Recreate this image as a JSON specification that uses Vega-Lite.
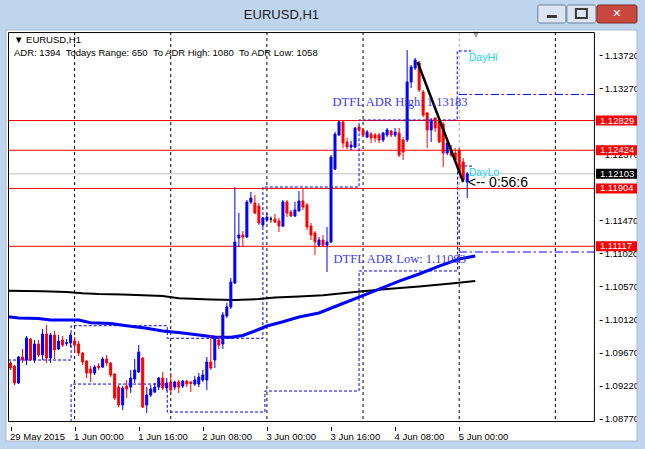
{
"$schema": "https://vega.github.io/schema/vega-lite/v6.json",
"width": 651, "height": 454,
"autosize": {"type": "none"},
"padding": 0,
"background": "#FFFFFF",
"config": {"view": {"stroke": null}, "font": "Liberation Sans"},
"datasets": {
"candles": [
{"i":-16,"o":1.09528,"h":1.09555,"l":1.09433,"c":1.09460,"d":"dn"},
{"i":-15,"o":1.09487,"h":1.09501,"l":1.09229,"c":1.09256,"d":"dn"},
{"i":-14,"o":1.09256,"h":1.09624,"l":1.09242,"c":1.09610,"d":"up"},
{"i":-13,"o":1.09610,"h":1.09719,"l":1.09528,"c":1.09569,"d":"dn"},
{"i":-12,"o":1.09569,"h":1.09896,"l":1.09501,"c":1.09869,"d":"up"},
{"i":-11,"o":1.09855,"h":1.09869,"l":1.09555,"c":1.09569,"d":"dn"},
{"i":-10,"o":1.09569,"h":1.09842,"l":1.09528,"c":1.09787,"d":"up"},
{"i":-9,"o":1.09787,"h":1.09842,"l":1.09610,"c":1.09637,"d":"dn"},
{"i":-8,"o":1.09637,"h":1.09991,"l":1.09569,"c":1.09923,"d":"up"},
{"i":-7,"o":1.09923,"h":1.10045,"l":1.09528,"c":1.09596,"d":"dn"},
{"i":-6,"o":1.09596,"h":1.09937,"l":1.09528,"c":1.09909,"d":"up"},
{"i":-5,"o":1.09909,"h":1.09964,"l":1.09583,"c":1.09705,"d":"dn"},
{"i":-4,"o":1.09719,"h":1.09909,"l":1.09705,"c":1.09828,"d":"up"},
{"i":-3,"o":1.09842,"h":1.09896,"l":1.09746,"c":1.09773,"d":"dn"},
{"i":-2,"o":1.09794,"h":1.09855,"l":1.09760,"c":1.09807,"d":"up"},
{"i":-1,"o":1.09801,"h":1.09937,"l":1.09746,"c":1.09909,"d":"up"},
{"i":0,"o":1.09828,"h":1.09882,"l":1.09664,"c":1.09773,"d":"dn"},
{"i":1,"o":1.09787,"h":1.09828,"l":1.09624,"c":1.09664,"d":"dn"},
{"i":2,"o":1.09664,"h":1.09678,"l":1.09501,"c":1.09542,"d":"dn"},
{"i":3,"o":1.09555,"h":1.09569,"l":1.09324,"c":1.09392,"d":"dn"},
{"i":4,"o":1.09446,"h":1.09487,"l":1.09270,"c":1.09392,"d":"dn"},
{"i":5,"o":1.09392,"h":1.09501,"l":1.09365,"c":1.09473,"d":"up"},
{"i":6,"o":1.09487,"h":1.09528,"l":1.09433,"c":1.09467,"d":"dn"},
{"i":7,"o":1.09473,"h":1.09610,"l":1.09460,"c":1.09583,"d":"up"},
{"i":8,"o":1.09583,"h":1.09637,"l":1.09487,"c":1.09528,"d":"dn"},
{"i":9,"o":1.09528,"h":1.09542,"l":1.09338,"c":1.09365,"d":"dn"},
{"i":10,"o":1.09378,"h":1.09392,"l":1.09025,"c":1.09052,"d":"dn"},
{"i":11,"o":1.09201,"h":1.09229,"l":1.08929,"c":1.08957,"d":"dn"},
{"i":12,"o":1.08957,"h":1.09215,"l":1.08888,"c":1.09188,"d":"up"},
{"i":13,"o":1.09215,"h":1.09297,"l":1.09052,"c":1.09174,"d":"dn"},
{"i":14,"o":1.09201,"h":1.09433,"l":1.09120,"c":1.09324,"d":"up"},
{"i":15,"o":1.09310,"h":1.09583,"l":1.09256,"c":1.09433,"d":"up"},
{"i":16,"o":1.09406,"h":1.09773,"l":1.09392,"c":1.09678,"d":"up"},
{"i":17,"o":1.09596,"h":1.09610,"l":1.08916,"c":1.08929,"d":"dn"},
{"i":18,"o":1.08957,"h":1.09201,"l":1.08848,"c":1.09093,"d":"up"},
{"i":19,"o":1.09093,"h":1.09229,"l":1.09065,"c":1.09174,"d":"up"},
{"i":20,"o":1.09133,"h":1.09256,"l":1.09120,"c":1.09201,"d":"up"},
{"i":21,"o":1.09201,"h":1.09338,"l":1.09161,"c":1.09324,"d":"up"},
{"i":22,"o":1.09324,"h":1.09406,"l":1.09161,"c":1.09188,"d":"dn"},
{"i":23,"o":1.09188,"h":1.09324,"l":1.09147,"c":1.09256,"d":"up"},
{"i":24,"o":1.09270,"h":1.09392,"l":1.09120,"c":1.09161,"d":"dn"},
{"i":25,"o":1.09201,"h":1.09283,"l":1.09161,"c":1.09270,"d":"up"},
{"i":26,"o":1.09270,"h":1.09297,"l":1.09120,"c":1.09201,"d":"dn"},
{"i":27,"o":1.09215,"h":1.09297,"l":1.09188,"c":1.09283,"d":"up"},
{"i":28,"o":1.09283,"h":1.09297,"l":1.09201,"c":1.09242,"d":"dn"},
{"i":29,"o":1.09270,"h":1.09276,"l":1.09133,"c":1.09249,"d":"dn"},
{"i":30,"o":1.09242,"h":1.09351,"l":1.09215,"c":1.09297,"d":"up"},
{"i":31,"o":1.09242,"h":1.09392,"l":1.09201,"c":1.09338,"d":"up"},
{"i":32,"o":1.09297,"h":1.09433,"l":1.09270,"c":1.09365,"d":"up"},
{"i":33,"o":1.09297,"h":1.09610,"l":1.09161,"c":1.09542,"d":"up"},
{"i":34,"o":1.09542,"h":1.09909,"l":1.09433,"c":1.09460,"d":"dn"},
{"i":35,"o":1.09569,"h":1.09896,"l":1.09460,"c":1.09855,"d":"up"},
{"i":36,"o":1.09842,"h":1.09896,"l":1.09719,"c":1.09773,"d":"dn"},
{"i":37,"o":1.09787,"h":1.10222,"l":1.09719,"c":1.10182,"d":"up"},
{"i":38,"o":1.10168,"h":1.10345,"l":1.10141,"c":1.10291,"d":"up"},
{"i":39,"o":1.10291,"h":1.10685,"l":1.10263,"c":1.10630,"d":"up"},
{"i":40,"o":1.10617,"h":1.11924,"l":1.10603,"c":1.11175,"d":"up"},
{"i":41,"o":1.11229,"h":1.11570,"l":1.11107,"c":1.11270,"d":"up"},
{"i":42,"o":1.11270,"h":1.11325,"l":1.11107,"c":1.11243,"d":"dn"},
{"i":43,"o":1.11243,"h":1.11747,"l":1.11229,"c":1.11720,"d":"up"},
{"i":44,"o":1.11720,"h":1.11856,"l":1.11692,"c":1.11774,"d":"up"},
{"i":45,"o":1.11706,"h":1.11815,"l":1.11556,"c":1.11570,"d":"dn"},
{"i":46,"o":1.11665,"h":1.11706,"l":1.11407,"c":1.11434,"d":"dn"},
{"i":47,"o":1.11407,"h":1.11515,"l":1.11379,"c":1.11502,"d":"up"},
{"i":48,"o":1.11475,"h":1.11570,"l":1.11447,"c":1.11515,"d":"up"},
{"i":49,"o":1.11488,"h":1.11522,"l":1.11438,"c":1.11488,"d":"doji"},
{"i":50,"o":1.11488,"h":1.11556,"l":1.11434,"c":1.11447,"d":"dn"},
{"i":51,"o":1.11461,"h":1.11502,"l":1.11311,"c":1.11393,"d":"dn"},
{"i":52,"o":1.11393,"h":1.11747,"l":1.11379,"c":1.11720,"d":"up"},
{"i":53,"o":1.11720,"h":1.11747,"l":1.11515,"c":1.11570,"d":"dn"},
{"i":54,"o":1.11584,"h":1.11611,"l":1.11515,"c":1.11529,"d":"dn"},
{"i":55,"o":1.11529,"h":1.11720,"l":1.11515,"c":1.11611,"d":"up"},
{"i":56,"o":1.11597,"h":1.11870,"l":1.11597,"c":1.11733,"d":"up"},
{"i":57,"o":1.11733,"h":1.11897,"l":1.11611,"c":1.11652,"d":"dn"},
{"i":58,"o":1.11679,"h":1.11706,"l":1.11338,"c":1.11379,"d":"dn"},
{"i":59,"o":1.11393,"h":1.11434,"l":1.11202,"c":1.11270,"d":"dn"},
{"i":60,"o":1.11297,"h":1.11325,"l":1.10998,"c":1.11175,"d":"dn"},
{"i":61,"o":1.11134,"h":1.11243,"l":1.11107,"c":1.11202,"d":"up"},
{"i":62,"o":1.11202,"h":1.11270,"l":1.11107,"c":1.11134,"d":"dn"},
{"i":63,"o":1.11134,"h":1.11379,"l":1.10767,"c":1.11175,"d":"up"},
{"i":64,"o":1.11175,"h":1.12359,"l":1.11161,"c":1.12332,"d":"up"},
{"i":65,"o":1.12168,"h":1.12672,"l":1.12155,"c":1.12645,"d":"up"},
{"i":66,"o":1.12632,"h":1.12822,"l":1.12618,"c":1.12809,"d":"up"},
{"i":67,"o":1.12809,"h":1.12836,"l":1.12455,"c":1.12523,"d":"dn"},
{"i":68,"o":1.12536,"h":1.12591,"l":1.12441,"c":1.12468,"d":"dn"},
{"i":69,"o":1.12468,"h":1.12550,"l":1.12427,"c":1.12495,"d":"up"},
{"i":70,"o":1.12468,"h":1.12740,"l":1.12455,"c":1.12727,"d":"up"},
{"i":71,"o":1.12740,"h":1.12768,"l":1.12672,"c":1.12700,"d":"dn"},
{"i":72,"o":1.12700,"h":1.12727,"l":1.12604,"c":1.12632,"d":"dn"},
{"i":73,"o":1.12604,"h":1.12700,"l":1.12591,"c":1.12672,"d":"up"},
{"i":74,"o":1.12645,"h":1.12672,"l":1.12523,"c":1.12591,"d":"dn"},
{"i":75,"o":1.12632,"h":1.12659,"l":1.12536,"c":1.12591,"d":"dn"},
{"i":76,"o":1.12632,"h":1.12659,"l":1.12523,"c":1.12564,"d":"dn"},
{"i":77,"o":1.12564,"h":1.12672,"l":1.12536,"c":1.12659,"d":"up"},
{"i":78,"o":1.12632,"h":1.12727,"l":1.12604,"c":1.12700,"d":"up"},
{"i":79,"o":1.12686,"h":1.12700,"l":1.12604,"c":1.12632,"d":"dn"},
{"i":80,"o":1.12632,"h":1.12727,"l":1.12604,"c":1.12672,"d":"up"},
{"i":81,"o":1.12659,"h":1.12727,"l":1.12332,"c":1.12359,"d":"dn"},
{"i":82,"o":1.12564,"h":1.12604,"l":1.12291,"c":1.12400,"d":"dn"},
{"i":83,"o":1.12564,"h":1.13788,"l":1.12536,"c":1.13353,"d":"up"},
{"i":84,"o":1.13353,"h":1.13584,"l":1.13271,"c":1.13557,"d":"up"},
{"i":85,"o":1.13543,"h":1.13680,"l":1.13516,"c":1.13652,"d":"up"},
{"i":86,"o":1.13612,"h":1.13639,"l":1.13217,"c":1.13244,"d":"dn"},
{"i":87,"o":1.13217,"h":1.13244,"l":1.12877,"c":1.12904,"d":"dn"},
{"i":88,"o":1.12931,"h":1.12945,"l":1.12455,"c":1.12700,"d":"dn"},
{"i":89,"o":1.12700,"h":1.12863,"l":1.12536,"c":1.12836,"d":"up"},
{"i":90,"o":1.12863,"h":1.12877,"l":1.12672,"c":1.12727,"d":"dn"},
{"i":91,"o":1.12836,"h":1.12877,"l":1.12523,"c":1.12536,"d":"dn"},
{"i":92,"o":1.12781,"h":1.12809,"l":1.12196,"c":1.12387,"d":"dn"},
{"i":93,"o":1.12387,"h":1.12564,"l":1.12359,"c":1.12523,"d":"up"},
{"i":94,"o":1.12427,"h":1.12495,"l":1.12332,"c":1.12359,"d":"dn"},
{"i":95,"o":1.12387,"h":1.12455,"l":1.12264,"c":1.12291,"d":"dn"},
{"i":96,"o":1.12427,"h":1.12455,"l":1.12114,"c":1.12128,"d":"dn"},
{"i":97,"o":1.12264,"h":1.12318,"l":1.11992,"c":1.12019,"d":"dn"},
{"i":98,"o":1.11992,"h":1.12128,"l":1.11774,"c":1.12103,"d":"up"}
],
"ma200": [
{"i":-16.6,"p":1.10512},{"i":-8,"p":1.10505},{"i":-2,"p":1.10494},{"i":2,"p":1.10477},{"i":6,"p":1.10467},{"i":12,"p":1.10460},{"i":22,"p":1.10440},{"i":26,"p":1.10409},{"i":34,"p":1.10392},{"i":40,"p":1.10386},{"i":46,"p":1.10399},{"i":50,"p":1.10420},{"i":56,"p":1.10433},{"i":62,"p":1.10450},{"i":70,"p":1.10494},{"i":78,"p":1.10535},{"i":86,"p":1.10569},{"i":94,"p":1.10610},{"i":100,"p":1.10644}
],
"ma50": [
{"i":-16.6,"p":1.10159},{"i":-14,"p":1.10141},{"i":-9,"p":1.10134},{"i":-6,"p":1.10113},{"i":1,"p":1.10113},{"i":4,"p":1.10077},{"i":9,"p":1.10066},{"i":13,"p":1.10036},{"i":18,"p":1.10000},{"i":22,"p":1.09964},{"i":27,"p":1.09937},{"i":31,"p":1.09909},{"i":35,"p":1.09882},{"i":39,"p":1.09878},{"i":42,"p":1.09903},{"i":45,"p":1.09964},{"i":48,"p":1.10032},{"i":52,"p":1.10090},{"i":56,"p":1.10154},{"i":61,"p":1.10209},{"i":66,"p":1.10318},{"i":71,"p":1.10426},{"i":76,"p":1.10535},{"i":81,"p":1.10644},{"i":86,"p":1.10740},{"i":91,"p":1.10848},{"i":96,"p":1.10944},{"i":100,"p":1.10985}
],
"steps": [
{"s":"hi","i":-16.625,"p":1.09569},{"s":"hi","i":-0.875,"p":1.10036},{"s":"hi","i":23.125,"p":1.09865},{"s":"hi","i":47,"p":1.11924},{"s":"hi","i":71,"p":1.12836},{"s":"hi","i":95.5,"p":1.13775},{"s":"hi","i":99,"p":1.13775},
{"s":"lo","i":-0.9,"p":1.08725},{"s":"lo","i":-0.875,"p":1.09242},{"s":"lo","i":23.125,"p":1.08861},{"s":"lo","i":47.5,"p":1.09147},{"s":"lo","i":71,"p":1.10781},{"s":"lo","i":95.6,"p":1.12209},{"s":"lo","i":99.5,"p":1.12209}
],
"levels": [{"p":1.12829},{"p":1.12424},{"p":1.11904},{"p":1.11117}],
"chrome": [
{"x1":-18.625,"x2":142.625,"y1":1.14469,"y2":1.14061},
{"x1":-18.625,"x2":-17.125,"y1":1.14061,"y2":1.08358},
{"x1":140.375,"x2":142.625,"y1":1.14061,"y2":1.08358},
{"x1":-18.625,"x2":142.625,"y1":1.08467,"y2":1.08358}
]
},
"layer": [
{"data": {"name": "chrome"}, "mark": {"type": "rect", "fill": "#BFD5ED"},
 "encoding": {
  "x": {"field": "x1", "type": "quantitative", "title": null, "scale": {"domain": [-17.375, 142.625], "nice": false, "zero": false},
   "axis": {"orient": "bottom", "offset": -27.6, "values": [-16, 0, 16, 32, 48, 64, 80, 96], "labelExpr": "datum.value == -16 ? '29 May 2015' : datum.value == 0 ? '1 Jun 00:00' : datum.value == 16 ? '1 Jun 16:00' : datum.value == 32 ? '2 Jun 08:00' : datum.value == 48 ? '3 Jun 00:00' : datum.value == 64 ? '3 Jun 16:00' : datum.value == 80 ? '4 Jun 08:00' : '5 Jun 00:00'", "title": null, "grid": false, "domain": false, "tickSize": 4, "tickColor": "#000000", "labelAlign": "left", "labelBaseline": "top", "labelPadding": 1, "labelOffset": -1, "labelFont": "Liberation Sans", "labelFontSize": 9.5, "labelColor": "#000000", "labelOverlap": false, "labelFlush": false, "labelBound": false, "zindex": 0}},
  "x2": {"field": "x2"},
  "y": {"field": "y1", "type": "quantitative", "title": null, "scale": {"domain": [1.08358, 1.14401], "nice": false, "zero": false},
   "axis": {"orient": "right", "offset": -51.8, "values": [1.0877, 1.0922, 1.0967, 1.1012, 1.1057, 1.1102, 1.1147, 1.1237, 1.1327, 1.1372], "format": ".5f", "title": null, "grid": false, "domain": false, "tickSize": 3, "tickColor": "#000000", "labelPadding": 2, "labelFont": "Liberation Sans", "labelFontSize": 9.5, "labelColor": "#000000", "labelOverlap": false, "labelFlush": false, "labelBound": false, "labelBaseline": "middle", "zindex": 0}},
  "y2": {"field": "y2"}}},
{"data": {"values": [{}]}, "mark": {"type": "rect", "fill": "transparent", "stroke": "#A7B7C9", "strokeWidth": 1},
 "encoding": {"x": {"datum": -17.125, "type": "quantitative", "scale": {"domain": [-17.375, 142.625], "nice": false, "zero": false}}, "x2": {"datum": 140.375}, "y": {"datum": 1.14061, "type": "quantitative", "scale": {"domain": [1.08358, 1.14401], "nice": false, "zero": false}}, "y2": {"datum": 1.08467}}},
{"data": {"values": [{"t": "EURUSD,H1"}]}, "mark": {"type": "text", "align": "center", "baseline": "middle", "font": "Liberation Sans", "fontSize": 13, "color": "#1A1A1A"},
 "encoding": {"x": {"datum": 51.625, "type": "quantitative", "scale": {"domain": [-17.375, 142.625], "nice": false, "zero": false}}, "y": {"datum": 1.14265, "type": "quantitative", "scale": {"domain": [1.08358, 1.14401], "nice": false, "zero": false}}, "text": {"field": "t"}}},
{"data": {"values": [{}]}, "mark": {"type": "rect", "fill": "#DCE6F3", "stroke": "#6F8199", "strokeWidth": 1, "cornerRadius": 2},
 "encoding": {"x": {"datum": 115.625, "type": "quantitative", "scale": {"domain": [-17.375, 142.625], "nice": false, "zero": false}}, "x2": {"datum": 122.625}, "y": {"datum": 1.14401, "type": "quantitative", "scale": {"domain": [1.08358, 1.14401], "nice": false, "zero": false}}, "y2": {"datum": 1.14156}}},
{"data": {"values": [{}]}, "mark": {"type": "rect", "fill": "#DCE6F3", "stroke": "#6F8199", "strokeWidth": 1, "cornerRadius": 2},
 "encoding": {"x": {"datum": 122.875, "type": "quantitative", "scale": {"domain": [-17.375, 142.625], "nice": false, "zero": false}}, "x2": {"datum": 130.125}, "y": {"datum": 1.14401, "type": "quantitative", "scale": {"domain": [1.08358, 1.14401], "nice": false, "zero": false}}, "y2": {"datum": 1.14156}}},
{"data": {"values": [{}]}, "mark": {"type": "rect", "fill": "#C8473E", "stroke": "#7A2A25", "strokeWidth": 1, "cornerRadius": 2},
 "encoding": {"x": {"datum": 130.375, "type": "quantitative", "scale": {"domain": [-17.375, 142.625], "nice": false, "zero": false}}, "x2": {"datum": 140.375}, "y": {"datum": 1.14401, "type": "quantitative", "scale": {"domain": [1.08358, 1.14401], "nice": false, "zero": false}}, "y2": {"datum": 1.14156}}},
{"data": {"values": [{}]}, "mark": {"type": "rect", "fill": "#3A3A3A"},
 "encoding": {"x": {"datum": 117.875, "type": "quantitative", "scale": {"domain": [-17.375, 142.625], "nice": false, "zero": false}}, "x2": {"datum": 120.375}, "y": {"datum": 1.14265, "type": "quantitative", "scale": {"domain": [1.08358, 1.14401], "nice": false, "zero": false}}, "y2": {"datum": 1.14224}}},
{"data": {"values": [{}]}, "mark": {"type": "rect", "fill": "transparent", "stroke": "#3A3A3A", "strokeWidth": 2},
 "encoding": {"x": {"datum": 125.125, "type": "quantitative", "scale": {"domain": [-17.375, 142.625], "nice": false, "zero": false}}, "x2": {"datum": 127.875}, "y": {"datum": 1.14346, "type": "quantitative", "scale": {"domain": [1.08358, 1.14401], "nice": false, "zero": false}}, "y2": {"datum": 1.14224}}},
{"data": {"values": [{"t": "✕"}]}, "mark": {"type": "text", "align": "center", "baseline": "middle", "font": "DejaVu Sans", "fontSize": 11, "fontWeight": "bold", "color": "#FFFFFF"},
 "encoding": {"x": {"datum": 135.375, "type": "quantitative", "scale": {"domain": [-17.375, 142.625], "nice": false, "zero": false}}, "y": {"datum": 1.14278, "type": "quantitative", "scale": {"domain": [1.08358, 1.14401], "nice": false, "zero": false}}, "text": {"field": "t"}}},
{"data": {"values": [{"i": 0}, {"i": 24}, {"i": 48}, {"i": 72}, {"i": 120}]}, "mark": {"type": "rule", "color": "#000000", "strokeWidth": 1, "strokeDash": [3, 3]},
 "encoding": {"x": {"field": "i", "type": "quantitative", "title": null, "scale": {"domain": [-17.375, 142.625], "nice": false, "zero": false}}, "y": {"datum": 1.14033, "type": "quantitative", "scale": {"domain": [1.08358, 1.14401], "nice": false, "zero": false}}, "y2": {"datum": 1.08725}}},
{"data": {"values": [{}]}, "mark": {"type": "rule", "color": "#000000", "strokeWidth": 1, "strokeDash": [3, 3]},
 "encoding": {"x": {"datum": 96, "type": "quantitative", "scale": {"domain": [-17.375, 142.625], "nice": false, "zero": false}}, "y": {"datum": 1.11747, "type": "quantitative", "scale": {"domain": [1.08358, 1.14401], "nice": false, "zero": false}}, "y2": {"datum": 1.08725}}},
{"data": {"values": [{}]}, "mark": {"type": "rule", "color": "#A8A8A8", "strokeWidth": 1, "strokeDash": [3, 3]},
 "encoding": {"x": {"datum": 96, "type": "quantitative", "scale": {"domain": [-17.375, 142.625], "nice": false, "zero": false}}, "y": {"datum": 1.14033, "type": "quantitative", "scale": {"domain": [1.08358, 1.14401], "nice": false, "zero": false}}, "y2": {"datum": 1.11747}}},
{"data": {"values": [{"t": "▼"}]}, "mark": {"type": "text", "align": "center", "baseline": "middle", "font": "DejaVu Sans", "fontSize": 8, "color": "#A0A0A0"},
 "encoding": {"x": {"datum": 100.125, "type": "quantitative", "scale": {"domain": [-17.375, 142.625], "nice": false, "zero": false}}, "y": {"datum": 1.13993, "type": "quantitative", "scale": {"domain": [1.08358, 1.14401], "nice": false, "zero": false}}, "text": {"field": "t"}}},
{"data": {"name": "levels"}, "mark": {"type": "rule", "color": "#FF0000", "strokeWidth": 1},
 "encoding": {"x": {"datum": -16.625, "type": "quantitative", "scale": {"domain": [-17.375, 142.625], "nice": false, "zero": false}}, "x2": {"datum": 129.875}, "y": {"field": "p", "type": "quantitative", "title": null, "scale": {"domain": [1.08358, 1.14401], "nice": false, "zero": false}}}},
{"data": {"values": [{"p": 1.12103}]}, "mark": {"type": "rule", "color": "#C0C0C0", "strokeWidth": 1},
 "encoding": {"x": {"datum": -16.625, "type": "quantitative", "scale": {"domain": [-17.375, 142.625], "nice": false, "zero": false}}, "x2": {"datum": 129.875}, "y": {"field": "p", "type": "quantitative", "title": null, "scale": {"domain": [1.08358, 1.14401], "nice": false, "zero": false}}}},
{"data": {"name": "steps"}, "mark": {"type": "line", "interpolate": "step-after", "color": "#0000FF", "strokeWidth": 1, "strokeDash": [3, 2]},
 "encoding": {"x": {"field": "i", "type": "quantitative", "title": null, "scale": {"domain": [-17.375, 142.625], "nice": false, "zero": false}}, "y": {"field": "p", "type": "quantitative", "title": null, "scale": {"domain": [1.08358, 1.14401], "nice": false, "zero": false}}, "detail": {"field": "s"}}},
{"data": {"values": [{"p": 1.13183}, {"p": 1.11039}]}, "mark": {"type": "rule", "color": "#0000FF", "strokeWidth": 1, "strokeDash": [8, 3, 2, 3]},
 "encoding": {"x": {"datum": 95.9, "type": "quantitative", "scale": {"domain": [-17.375, 142.625], "nice": false, "zero": false}}, "x2": {"datum": 129.875}, "y": {"field": "p", "type": "quantitative", "title": null, "scale": {"domain": [1.08358, 1.14401], "nice": false, "zero": false}}}},
{"data": {"name": "ma200"}, "mark": {"type": "line", "color": "#000000", "strokeWidth": 2},
 "encoding": {"x": {"field": "i", "type": "quantitative", "title": null, "scale": {"domain": [-17.375, 142.625], "nice": false, "zero": false}}, "y": {"field": "p", "type": "quantitative", "title": null, "scale": {"domain": [1.08358, 1.14401], "nice": false, "zero": false}}}},
{"data": {"name": "ma50"}, "mark": {"type": "line", "color": "#0000FF", "strokeWidth": 3},
 "encoding": {"x": {"field": "i", "type": "quantitative", "title": null, "scale": {"domain": [-17.375, 142.625], "nice": false, "zero": false}}, "y": {"field": "p", "type": "quantitative", "title": null, "scale": {"domain": [1.08358, 1.14401], "nice": false, "zero": false}}}},
{"data": {"name": "candles"}, "mark": {"type": "rule", "strokeWidth": 1},
 "encoding": {"x": {"field": "i", "type": "quantitative", "title": null, "scale": {"domain": [-17.375, 142.625], "nice": false, "zero": false}}, "y": {"field": "l", "type": "quantitative", "title": null, "scale": {"domain": [1.08358, 1.14401], "nice": false, "zero": false}}, "y2": {"field": "h"},
  "color": {"field": "d", "type": "nominal", "scale": {"domain": ["up", "dn", "doji"], "range": ["#0000FF", "#FF0000", "#000000"]}, "legend": null}}},
{"data": {"name": "candles"}, "mark": {"type": "bar", "width": 2, "strokeWidth": 1},
 "encoding": {"x": {"field": "i", "type": "quantitative", "title": null, "scale": {"domain": [-17.375, 142.625], "nice": false, "zero": false}}, "y": {"field": "o", "type": "quantitative", "title": null, "scale": {"domain": [1.08358, 1.14401], "nice": false, "zero": false}}, "y2": {"field": "c"},
  "color": {"field": "d", "type": "nominal", "scale": {"domain": ["up", "dn", "doji"], "range": ["#0000FF", "#FF0000", "#000000"]}, "legend": null},
  "stroke": {"field": "d", "type": "nominal", "scale": {"domain": ["up", "dn", "doji"], "range": ["#0000FF", "#FF0000", "#000000"]}, "legend": null}}},
{"data": {"values": [{"i": 85.6, "p": 1.13625}, {"i": 97, "p": 1.11992}]}, "mark": {"type": "line", "color": "#000000", "strokeWidth": 2.5},
 "encoding": {"x": {"field": "i", "type": "quantitative", "title": null, "scale": {"domain": [-17.375, 142.625], "nice": false, "zero": false}}, "y": {"field": "p", "type": "quantitative", "title": null, "scale": {"domain": [1.08358, 1.14401], "nice": false, "zero": false}}}},
{"data": {"values": [{"i": -15.125, "p": 1.13925, "t": "▼ EURUSD,H1"}, {"i": -15.125, "p": 1.13748, "t": "ADR: 1394\u00a0\u00a0Todays Range: 650\u00a0\u00a0To ADR High: 1080\u00a0\u00a0To ADR Low: 1058"}]},
 "mark": {"type": "text", "align": "left", "baseline": "middle", "font": "Liberation Sans", "fontSize": 9.5, "color": "#000000"},
 "encoding": {"x": {"field": "i", "type": "quantitative", "title": null, "scale": {"domain": [-17.375, 142.625], "nice": false, "zero": false}}, "y": {"field": "p", "type": "quantitative", "title": null, "scale": {"domain": [1.08358, 1.14401], "nice": false, "zero": false}}, "text": {"field": "t"}}},
{"data": {"values": [{"i": 64.375, "p": 1.13081, "t": "DTFL ADR High: 1.13183"}, {"i": 64.625, "p": 1.10944, "t": "DTFL ADR Low: 1.11093"}]},
 "mark": {"type": "text", "align": "left", "baseline": "middle", "font": "Liberation Serif", "fontSize": 12.5, "color": "#3A3AF2"},
 "encoding": {"x": {"field": "i", "type": "quantitative", "title": null, "scale": {"domain": [-17.375, 142.625], "nice": false, "zero": false}}, "y": {"field": "p", "type": "quantitative", "title": null, "scale": {"domain": [1.08358, 1.14401], "nice": false, "zero": false}}, "text": {"field": "t"}}},
{"data": {"values": [{"i": 98.375, "p": 1.13686, "t": "DayHi"}, {"i": 98.375, "p": 1.12114, "t": "DayLo"}]},
 "mark": {"type": "text", "align": "left", "baseline": "middle", "font": "Liberation Sans", "fontSize": 10.5, "color": "#1CD3F0"},
 "encoding": {"x": {"field": "i", "type": "quantitative", "title": null, "scale": {"domain": [-17.375, 142.625], "nice": false, "zero": false}}, "y": {"field": "p", "type": "quantitative", "title": null, "scale": {"domain": [1.08358, 1.14401], "nice": false, "zero": false}}, "text": {"field": "t"}}},
{"data": {"values": [{"i": 98.125, "p": 1.11985, "t": "<-- 0:56:6"}]},
 "mark": {"type": "text", "align": "left", "baseline": "middle", "font": "Liberation Sans", "fontSize": 14, "color": "#000000"},
 "encoding": {"x": {"field": "i", "type": "quantitative", "title": null, "scale": {"domain": [-17.375, 142.625], "nice": false, "zero": false}}, "y": {"field": "p", "type": "quantitative", "title": null, "scale": {"domain": [1.08358, 1.14401], "nice": false, "zero": false}}, "text": {"field": "t"}}},
{"data": {"name": "levels"}, "mark": {"type": "bar", "height": 10, "color": "#FF0000"},
 "encoding": {"x": {"datum": 130.125, "type": "quantitative", "scale": {"domain": [-17.375, 142.625], "nice": false, "zero": false}}, "x2": {"datum": 140.375}, "y": {"field": "p", "type": "quantitative", "title": null, "scale": {"domain": [1.08358, 1.14401], "nice": false, "zero": false}}}},
{"data": {"values": [{"p": 1.12103}]}, "mark": {"type": "bar", "height": 10, "color": "#000000"},
 "encoding": {"x": {"datum": 130.125, "type": "quantitative", "scale": {"domain": [-17.375, 142.625], "nice": false, "zero": false}}, "x2": {"datum": 140.375}, "y": {"field": "p", "type": "quantitative", "title": null, "scale": {"domain": [1.08358, 1.14401], "nice": false, "zero": false}}}},
{"data": {"values": [{"p": 1.12829}, {"p": 1.12424}, {"p": 1.12103}, {"p": 1.11904}, {"p": 1.11117}]},
 "mark": {"type": "text", "align": "left", "baseline": "middle", "font": "Liberation Sans", "fontSize": 9.5, "color": "#FFFFFF"},
 "encoding": {"x": {"datum": 131.125, "type": "quantitative", "scale": {"domain": [-17.375, 142.625], "nice": false, "zero": false}}, "y": {"field": "p", "type": "quantitative", "title": null, "scale": {"domain": [1.08358, 1.14401], "nice": false, "zero": false}}, "text": {"field": "p", "format": ".5f"}}},
{"data": {"values": [{}]}, "mark": {"type": "rect", "fill": "transparent", "stroke": "#000000", "strokeWidth": 1},
 "encoding": {"x": {"datum": -16.5, "type": "quantitative", "scale": {"domain": [-17.375, 142.625], "nice": false, "zero": false}}, "x2": {"datum": 129.75}, "y": {"datum": 1.14026, "type": "quantitative", "scale": {"domain": [1.08358, 1.14401], "nice": false, "zero": false}}, "y2": {"datum": 1.08732}}}
]
}
